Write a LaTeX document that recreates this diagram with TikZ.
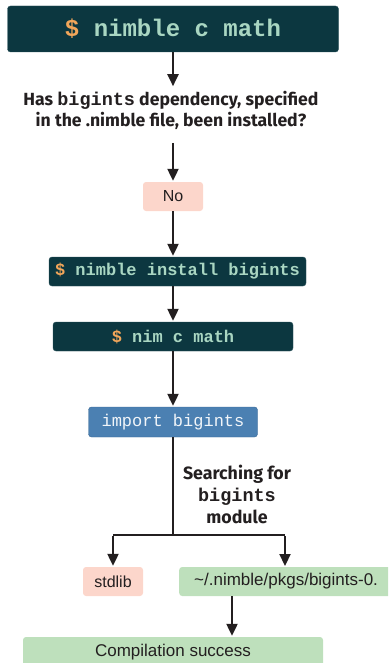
\documentclass[tikz,border=0pt]{standalone}
\usepackage{fontspec}
\setmainfont{Liberation Sans}
\newfontfamily\labfont{Fira Sans}
\setmonofont{Liberation Mono}
\usetikzlibrary{arrows.meta}
\definecolor{teal}{HTML}{0C3740}
\definecolor{tealline}{HTML}{2B525B}
\definecolor{mint}{HTML}{A9D6C2}
\definecolor{dollar}{HTML}{F2A65A}
\definecolor{pinkbox}{HTML}{FCD6CB}
\definecolor{greenbox}{HTML}{BEE0BC}
\definecolor{bluebox}{HTML}{4B80B2}
\definecolor{blueline}{HTML}{3A6894}
\definecolor{ink}{HTML}{231F20}
\newcommand{\monobig}[1]{{\ttfamily\bfseries\fontsize{18.5}{21}\selectfont #1}}
\tikzset{
  x=1pt,y=-1pt,
  cmdbox/.style={draw=tealline,fill=teal,rounded corners=3pt,inner sep=0pt,text=mint,font=\ttfamily\bfseries},
  pinkstyle/.style={fill=pinkbox,rounded corners=3pt,inner sep=0pt,text=ink,font=\fontsize{16}{18}\selectfont},
  greenstyle/.style={fill=greenbox,rounded corners=3pt,inner sep=0pt,text=ink,font=\fontsize{17}{19}\selectfont},
  bluestyle/.style={draw=blueline,fill=bluebox,rounded corners=3pt,inner sep=0pt,text=white!92!bluebox,font=\fontsize{17}{19}\selectfont\ttfamily},
  lab/.style={align=center,text=ink,font=\labfont\bfseries\fontsize{17.6}{21}\selectfont},
  arr/.style={draw=ink,line width=2.2pt,-{Triangle[length=12pt,width=11pt]},shorten >=1pt},
  ln/.style={draw=ink,line width=2.2pt},
}
\begin{document}
\begin{tikzpicture}
\useasboundingbox (0,0) rectangle (388,663);
\clip (0,0) rectangle (388,663);
\node[cmdbox,minimum width=331pt,minimum height=46pt,font=\ttfamily\bfseries\fontsize{24}{26}\selectfont] (top) at (173,29) {\textcolor{dollar}{\$} nimble c math};
\node[lab] (q) at (171,110.5) {Has \monobig{bigints} dependency, specified\\in the .nimble file, been installed?};
\node[pinkstyle,minimum width=60pt,minimum height=29pt] (no) at (173,196.5) {No};
\node[cmdbox,minimum width=257pt,minimum height=29pt,font=\ttfamily\bfseries\fontsize{17}{19}\selectfont] (inst) at (177.5,271.5) {\textcolor{dollar}{\$} nimble install bigints};
\node[cmdbox,minimum width=240pt,minimum height=29pt,font=\ttfamily\bfseries\fontsize{17}{19}\selectfont] (nim) at (173,336.5) {\textcolor{dollar}{\$} nim c math};
\node[bluestyle,minimum width=169pt,minimum height=30pt] (imp) at (173,422) {import bigints};
\node[lab,font=\labfont\bfseries\fontsize{17.8}{22}\selectfont] (srch) at (237,494) {Searching for\\\monobig{bigints}\\module};
\coordinate (split) at (173,535);
\node[pinkstyle,minimum width=60pt,minimum height=29pt] (std) at (113,581.5) {stdlib};
\node[greenstyle,anchor=west,inner xsep=15pt,minimum height=29pt] (pkg) at (179,581.5) {\textasciitilde/.nimble/pkgs/bigints-0.};
\node[greenstyle,minimum width=300pt,minimum height=30pt] (comp) at (173,652) {Compilation success};
\draw[arr] (top.south) -- ++(0,35) coordinate (qtop);
\draw[arr] (173,143) -- (no.north);
\draw[arr] (no.south) -- (no.south |- inst.north);
\draw[arr] (inst.south -| nim.north) -- (nim.north);
\draw[arr] (nim.south) -- (imp.north);
\draw[ln] (imp.south) -- (split);
\draw[ln] (split -| std.north) -- (split -| 285,0) ;
\draw[arr] ([yshift=-1pt]split -| std.north) -- (std.north);
\draw[arr] ([yshift=-1pt]split -| 285,0) -- (285,567);
\draw[arr] ([xshift=53pt]pkg.south west) -- ([xshift=53pt]pkg.south west |- comp.north);
\end{tikzpicture}
\end{document}
